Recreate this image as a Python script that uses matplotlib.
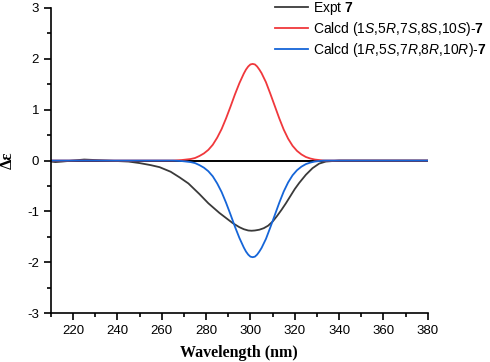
import matplotlib
matplotlib.use("Agg")
import matplotlib.pyplot as plt
from matplotlib.ticker import MultipleLocator

plt.rcParams['font.family'] = ['Liberation Sans', 'DejaVu Sans']
plt.rcParams['mathtext.fontset'] = 'custom'
plt.rcParams['mathtext.rm'] = 'Liberation Sans'
plt.rcParams['mathtext.it'] = 'Liberation Sans:italic'
plt.rcParams['mathtext.bf'] = 'Liberation Sans:bold'
plt.rcParams['axes.unicode_minus'] = False

# experimental CD curve (nm, delta epsilon)
wl_expt = [210, 212, 215, 220, 225, 230, 235, 240, 245, 250, 255, 259, 264, 268, 272,
           277, 281, 286, 289, 292, 295, 297, 299, 300.5, 302, 304, 306, 308, 310, 312,
           314, 316, 318, 320, 322, 325, 328, 331, 334, 337, 340, 350, 360, 370, 380]
de_expt = [-0.02, -0.03, -0.02, 0.0, 0.02, 0.01, 0.0, -0.01, -0.02, -0.05, -0.09, -0.13,
           -0.22, -0.33, -0.45, -0.66, -0.84, -1.03, -1.13, -1.23, -1.31, -1.35, -1.375,
           -1.38, -1.375, -1.36, -1.33, -1.28, -1.20, -1.09, -0.97, -0.84, -0.70, -0.56,
           -0.44, -0.28, -0.15, -0.06, -0.02, -0.01, 0.0, 0.0, 0.0, 0.0, 0.0]

# calculated curve (1S,5R,7S,8S,10S); the enantiomer is its mirror
wl_calc = [210, 240, 265, 269, 271, 273, 275, 277, 279, 281, 283, 285, 287, 289, 291,
           293, 295, 297, 298, 299, 300, 301, 302, 303, 304, 305, 307, 309, 311, 313,
           315, 317, 319, 321, 323, 325, 327, 329, 331, 333, 337, 350, 380]
de_calc = [0.0, 0.0, 0.0, 0.01, 0.02, 0.03, 0.05, 0.09, 0.14, 0.21, 0.31, 0.45, 0.62,
           0.83, 1.06, 1.30, 1.52, 1.71, 1.79, 1.85, 1.89, 1.90, 1.89, 1.85, 1.79, 1.72,
           1.54, 1.31, 1.07, 0.83, 0.61, 0.43, 0.29, 0.19, 0.12, 0.07, 0.04, 0.02, 0.01,
           0.0, 0.0, 0.0, 0.0]
de_calc_ent = [-v for v in de_calc]

fig, ax = plt.subplots(figsize=(4.9, 3.62), dpi=100)
fig.subplots_adjust(left=0.104, right=0.873, top=0.978, bottom=0.135)

ax.axhline(0, color='black', lw=1.4, zorder=1)
ax.plot(wl_expt, de_expt, color='#3a3a3a', lw=1.3, label=r'Expt $\bf{7}$')
ax.plot(wl_calc, de_calc, color='#f0383c', lw=1.3,
        label=r'Calcd (1$\it{S}$,5$\it{R}$,7$\it{S}$,8$\it{S}$,10$\it{S}$)-$\bf{7}$')
ax.plot(wl_calc, de_calc_ent, color='#1565d8', lw=1.3,
        label=r'Calcd (1$\it{R}$,5$\it{S}$,7$\it{R}$,8$\it{R}$,10$\it{R}$)-$\bf{7}$')

ax.set_xlim(210, 380)
ax.set_ylim(-3, 3)
ax.xaxis.set_major_locator(MultipleLocator(20))
ax.xaxis.set_minor_locator(MultipleLocator(10))
ax.yaxis.set_major_locator(MultipleLocator(1))
ax.yaxis.set_minor_locator(MultipleLocator(0.5))
ax.tick_params(which='major', direction='out', length=5, width=1.2, labelsize=9.5)
ax.tick_params(which='minor', direction='out', length=3, width=1.2)
ax.spines['top'].set_visible(False)
ax.spines['right'].set_visible(False)
ax.spines['left'].set_linewidth(1.2)
ax.spines['bottom'].set_linewidth(1.2)

ax.set_xlabel('Wavelength (nm)', fontfamily='Liberation Serif', fontweight='bold',
              fontsize=11.5, labelpad=6)
ax.set_ylabel('Δε', fontfamily='Liberation Serif', fontweight='bold', fontsize=12)
ax.yaxis.set_label_coords(-0.093, 0.5)

ax.legend(loc='upper left', bbox_to_anchor=(0.58, 1.044), frameon=False,
          fontsize=10, handlelength=2.4, handletextpad=0.3, labelspacing=0.2,
          borderaxespad=0)

fig.savefig('out.png', dpi=100)
